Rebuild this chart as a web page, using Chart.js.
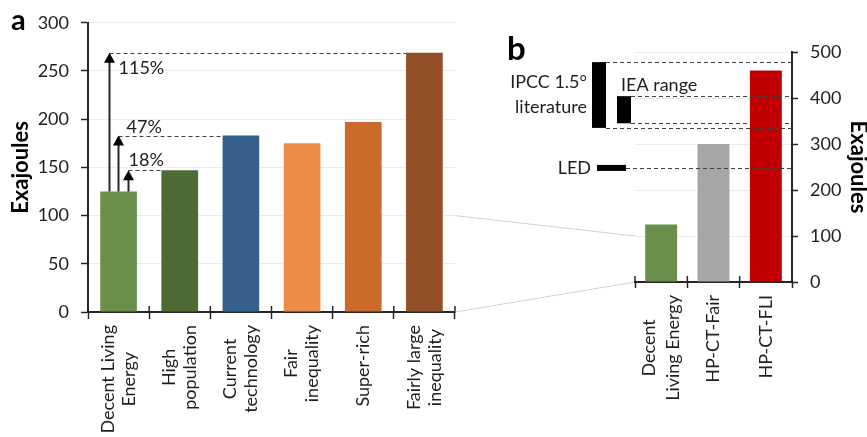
<!DOCTYPE html>
<html>
<head>
<meta charset="utf-8">
<script src="https://cdn.jsdelivr.net/npm/chart.js@4.4.1/dist/chart.umd.min.js"></script>
<style>
  body { margin: 0; background: #fff; }
  #wrap { position: relative; width: 867px; height: 437px; }
  canvas { position: absolute; top: 0; }
  #chartA { left: 0; }
  #chartB { left: 440px; }
</style>
</head>
<body>
<div id="wrap">
  <canvas id="chartA" width="460" height="437"></canvas>
  <canvas id="chartB" width="427" height="437"></canvas>
</div>
<script>
// ---------------------------------------------------------
// Dades (llegides de la figura)
// ---------------------------------------------------------
const scenariosA = [['Decent Living', 'Energy'], ['High', 'population'], ['Current', 'technology'],
                    ['Fair', 'inequality'], ['Super-rich'], ['Fairly large', 'inequality']];
const energyA = [125, 147, 183, 175, 197, 269];
const coloursA = ['#6a8f4a', '#4e6b36', '#37608a', '#ee8b47', '#cb6a2b', '#934f28'];
const ticksA = [0, 50, 100, 150, 200, 250, 300];

// increments respecte DLE: barra objectiu i etiqueta
const increaseTargets = [5, 2, 1];
const increaseLabels = ['115%', '47%', '18%'];

const scenariosB = [['Decent', 'Living Energy'], ['HP-CT-Fair'], ['HP-CT-FLI']];
const energyB = [125, 300, 460];
const coloursB = ['#6a8f4a', '#a6a6a6', '#c00000'];
const ticksB = [0, 100, 200, 300, 400, 500];

const ipccRange = [335, 478];
const ieaRange = [345, 404];
const ledValue = 248;

// ---------------------------------------------------------
// Estil
// ---------------------------------------------------------
const FONT = 'Lato';
const TEXT = '#1e1e1e';
const AXIS = '#262626';
const GRID = '#ececec';
const DASH = '#404040';

// posicio de cada fletxa (px des de l'esquerra de la barra DLE) i de la seva etiqueta
const arrowStyle = [
  { dx: 9,  lx: 9, ly: 16 },
  { dx: 18, lx: 8, ly: -8 },
  { dx: 28, lx: 0, ly: -10 }
];

Chart.defaults.font.family = FONT;
Chart.defaults.color = TEXT;
Chart.defaults.animation = false;

function drawCategoryLabels(chart, labels, lineGap) {
  const { ctx, scales: { x } } = chart;
  const top = x.top + 13;
  ctx.save();
  ctx.font = `18px ${FONT}`;
  ctx.fillStyle = TEXT;
  ctx.textAlign = 'center';
  ctx.textBaseline = 'middle';
  labels.forEach((lines, i) => {
    const cx = x.getPixelForValue(i);
    const block = Math.max(...lines.map(l => ctx.measureText(l).width));
    lines.forEach((line, j) => {
      ctx.save();
      ctx.translate(cx + (j - (lines.length - 1) / 2) * lineGap, top + block / 2);
      ctx.rotate(-Math.PI / 2);
      ctx.fillText(line, 0, 0);
      ctx.restore();
    });
  });
  ctx.restore();
}

// marques de l'eix x que creuen cap amunt
function drawUpTicks(chart, n) {
  const { ctx, scales: { x } } = chart;
  ctx.save();
  ctx.strokeStyle = AXIS;
  ctx.lineWidth = 1.5;
  for (let i = 0; i <= n; i++) {
    const px = x.left + i * x.width / n;
    ctx.beginPath();
    ctx.moveTo(px, x.top);
    ctx.lineTo(px, x.top - 6);
    ctx.stroke();
  }
  ctx.restore();
}

function dashed(ctx, x1, x2, y) {
  ctx.save();
  ctx.strokeStyle = DASH;
  ctx.lineWidth = 1;
  ctx.setLineDash([4, 3]);
  ctx.beginPath();
  ctx.moveTo(x1, Math.round(y) + 0.5);
  ctx.lineTo(x2, Math.round(y) + 0.5);
  ctx.stroke();
  ctx.restore();
}

// ---------------------------------------------------------
// Panell a
// ---------------------------------------------------------
const annotA = {
  id: 'annotA',
  afterDatasetsDraw(chart) {
    const { ctx } = chart;
    const bars = chart.getDatasetMeta(0).data;
    const base = bars[0];
    const baseLeft = base.x - base.width / 2;
    increaseTargets.forEach((t, k) => {
      const target = bars[t];
      const st = arrowStyle[k];
      const ax = Math.round(baseLeft + st.dx) + 0.5;
      dashed(ctx, ax, target.x - target.width / 2, target.y);
      ctx.save();
      ctx.strokeStyle = AXIS;
      ctx.fillStyle = '#000';
      ctx.lineWidth = 2;
      ctx.beginPath();
      ctx.moveTo(ax, base.y);
      ctx.lineTo(ax, target.y + 8);
      ctx.stroke();
      ctx.beginPath();
      ctx.moveTo(ax, target.y);
      ctx.lineTo(ax - 5.5, target.y + 10);
      ctx.lineTo(ax + 5.5, target.y + 10);
      ctx.closePath();
      ctx.fill();
      ctx.font = `18px ${FONT}`;
      ctx.fillStyle = TEXT;
      ctx.textBaseline = 'middle';
      ctx.textAlign = 'left';
      ctx.fillText(increaseLabels[k], ax + st.lx, target.y + st.ly);
      ctx.restore();
    });
  },
  afterDraw(chart) {
    drawCategoryLabels(chart, scenariosA, 21);
    drawUpTicks(chart, scenariosA.length);
    const { ctx } = chart;
    ctx.save();
    ctx.font = `bold 29px ${FONT}`;
    ctx.fillStyle = '#000';
    ctx.textBaseline = 'alphabetic';
    ctx.fillText('a', 11, 30);
    ctx.restore();
  }
};

const chartA = new Chart(document.getElementById('chartA'), {
  type: 'bar',
  data: {
    labels: scenariosA.map(l => l.join(' ')),
    datasets: [{ data: energyA, backgroundColor: coloursA, barPercentage: 0.6, categoryPercentage: 1 }]
  },
  options: {
    responsive: false,
    layout: { padding: { top: 22, right: 5, left: 0, bottom: 0 } },
    plugins: { legend: { display: false }, tooltip: { enabled: false } },
    scales: {
      x: {
        ticks: { display: false },
        grid: { offset: true, drawOnChartArea: false, tickLength: 7, tickColor: AXIS, tickWidth: 1.5 },
        border: { color: AXIS, width: 2 },
        afterFit: s => { s.height = 125; }
      },
      y: {
        min: 0, max: 300,
        ticks: {
          stepSize: 25,
          padding: 12,
          font: { size: 18 },
          color: TEXT,
          callback: v => ticksA.includes(v) ? v : ''
        },
        grid: {
          color: GRID,
          tickLength: 7,
          tickWidth: 1.5,
          tickColor: c => ticksA.includes(c.tick.value) ? AXIS : 'transparent'
        },
        border: { color: AXIS, width: 2 },
        title: {
          display: true, text: 'Exajoules', color: '#000',
          font: { size: 22, weight: 'bold', lineHeight: 1 },
          padding: { top: 10, bottom: 0 }
        },
        afterFit: s => { s.width = 88; }
      }
    }
  },
  plugins: [annotA]
});

// ---------------------------------------------------------
// Panell b
// ---------------------------------------------------------
const annotB = {
  id: 'annotB',
  beforeDraw(chart) {
    // linies de connexio amb el panell a (0 i 100 EJ)
    const { ctx, scales: { y } } = chart;
    const ya = chartA.scales.y;
    const x0 = chartA.chartArea.right - 440;
    const x1 = chart.chartArea.left;
    ctx.save();
    ctx.strokeStyle = '#d0d0d0';
    ctx.lineWidth = 1;
    [0, 100].forEach(v => {
      ctx.beginPath();
      ctx.moveTo(x0, ya.getPixelForValue(v));
      ctx.lineTo(x1, y.getPixelForValue(v));
      ctx.stroke();
    });
    ctx.restore();
  },
  afterDatasetsDraw(chart) {
    const { ctx, chartArea, scales: { y } } = chart;
    const L = chartArea.left, R = chartArea.right;
    const ipTop = y.getPixelForValue(ipccRange[1]), ipBot = y.getPixelForValue(ipccRange[0]);
    const ieTop = y.getPixelForValue(ieaRange[1]), ieBot = y.getPixelForValue(ieaRange[0]);
    const led = y.getPixelForValue(ledValue);

    dashed(ctx, L - 29, R, ipTop);
    dashed(ctx, L - 29, R, ipBot);
    dashed(ctx, L - 4, R, ieTop);
    dashed(ctx, L - 4, R, ieBot);
    dashed(ctx, L - 9, R, led);

    ctx.save();
    ctx.fillStyle = '#000';
    ctx.fillRect(L - 43, ipTop, 14, ipBot - ipTop);
    ctx.fillRect(L - 18, ieTop, 14, ieBot - ieTop);
    ctx.fillRect(L - 38, led - 3, 29, 6);

    ctx.font = `18px ${FONT}`;
    ctx.fillStyle = TEXT;
    ctx.textBaseline = 'middle';
    ctx.textAlign = 'right';
    const ipMid = (ipTop + ipBot) / 2;
    ctx.fillText('IPCC 1.5°', L - 48, ipMid - 12.5);
    ctx.fillText('literature', L - 48, ipMid + 12.5);
    ctx.fillText('LED', L - 44, led);
    ctx.textAlign = 'left';
    ctx.fillText('IEA range', L - 14, ieTop - 11);
    ctx.restore();
  },
  afterDraw(chart) {
    drawCategoryLabels(chart, scenariosB, 24);
    drawUpTicks(chart, scenariosB.length);
    const { ctx } = chart;
    ctx.save();
    ctx.font = `bold 33px ${FONT}`;
    ctx.fillStyle = '#000';
    ctx.textBaseline = 'alphabetic';
    ctx.fillText('b', 67, 60);
    ctx.restore();
  }
};

const chartB = new Chart(document.getElementById('chartB'), {
  type: 'bar',
  data: {
    labels: scenariosB.map(l => l.join(' ')),
    datasets: [{ data: energyB, backgroundColor: coloursB, barPercentage: 0.61, categoryPercentage: 1 }]
  },
  options: {
    responsive: false,
    layout: { padding: { top: 52, right: 0, left: 195, bottom: 0 } },
    plugins: { legend: { display: false }, tooltip: { enabled: false } },
    scales: {
      x: {
        ticks: { display: false },
        grid: { offset: true, drawOnChartArea: false, tickLength: 6, tickColor: AXIS, tickWidth: 1.5 },
        border: { color: AXIS, width: 2 },
        afterFit: s => { s.height = 155; }
      },
      y: {
        position: 'right',
        min: 0, max: 500,
        ticks: {
          stepSize: 50,
          padding: 12,
          font: { size: 18 },
          color: TEXT,
          callback: v => ticksB.includes(v) ? v : ''
        },
        grid: {
          color: c => ticksB.includes(c.tick.value) ? GRID : 'transparent',
          tickLength: 6,
          tickWidth: 1.5,
          tickColor: AXIS
        },
        border: { color: AXIS, width: 2 },
        title: {
          display: true, text: 'Exajoules', color: '#000',
          font: { size: 22, weight: 'bold', lineHeight: 1 },
          padding: { top: -2, bottom: 0 }
        },
        afterFit: s => { s.width = 75; }
      }
    }
  },
  plugins: [annotB]
});
</script>
</body>
</html>
